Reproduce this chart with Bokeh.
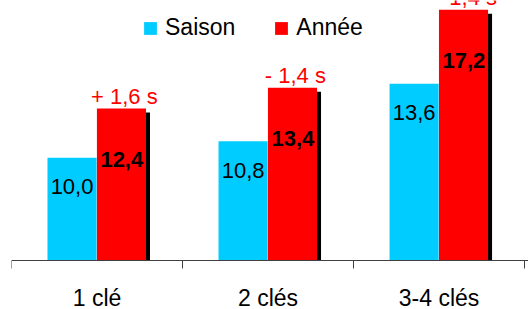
from bokeh.plotting import figure
from bokeh.models import ColumnDataSource, FixedTicker, Legend, LegendItem, Range1d
from bokeh.transform import dodge
from bokeh.core.properties import value
from bokeh.embed import file_html
from bokeh.resources import INLINE

# ---- data ----
categories = ["1 clé", "2 clés", "3-4 clés"]
saison = [10.0, 10.8, 13.6]
annee = [12.4, 13.4, 17.2]
saison_labels = ["10,0", "10,8", "13,6"]
annee_labels = ["12,4", "13,4", "17,2"]
ecart_labels = ["+ 1,6 s", "- 1,4 s", "- 1,4 s"]

FONT = "Liberation Sans"
CYAN = "#00CCFF"
RED = "#FF0000"
BASE = 5

xpos = [i + 0.5 for i in range(len(categories))]
src = ColumnDataSource(dict(x=xpos, saison=saison, annee=annee,
                            sl=saison_labels, al=annee_labels, el=ecart_labels))

p = figure(width=528, height=309, output_backend="svg", toolbar_location=None,
           x_range=Range1d(0, 3.023), y_range=Range1d(2.617, 17.65),
           min_border_left=11, min_border_right=0, min_border_top=0, min_border_bottom=0)
p.outline_line_color = None
p.grid.visible = False
p.yaxis.visible = False
p.background_fill_color = "white"

W = 0.287
# shadow behind red bars
p.vbar(x=dodge("x", 0.143 + 0.0234, range=p.x_range), top=dodge("annee", -0.195, range=p.y_range),
       bottom=BASE, width=W, source=src, fill_color="black", line_color=None)
r_s = p.vbar(x=dodge("x", -0.146, range=p.x_range), top="saison", bottom=BASE, width=W, source=src,
             fill_color=CYAN, line_color=None)
r_a = p.vbar(x=dodge("x", 0.143, range=p.x_range), top="annee", bottom=BASE, width=W, source=src,
             fill_color=RED, line_color=None)

p.text(x=dodge("x", -0.146, range=p.x_range), y="saison", text="sl", source=src,
       y_offset=29, text_align="center", text_baseline="middle",
       text_font=value(FONT), text_font_size="22px", text_color="black")
p.text(x=dodge("x", 0.145, range=p.x_range), y="annee", text="al", source=src,
       y_offset=51, text_align="center", text_baseline="middle",
       text_font=value(FONT), text_font_size="22px", text_font_style="bold", text_color="black")
p.text(x=dodge("x", 0.16, range=p.x_range), y="annee", text="el", source=src,
       y_offset=-12, text_align="center", text_baseline="middle",
       text_font=value(FONT), text_font_size="22px", text_color=RED)

ax = p.xaxis[0]
ax.fixed_location = BASE
ax.ticker = FixedTicker(ticks=xpos, minor_ticks=[0, 1, 2, 3])
ax.major_label_overrides = {x: c for x, c in zip(xpos, categories)}
ax.major_tick_in = 0
ax.major_tick_out = 0
ax.minor_tick_in = 0
ax.minor_tick_out = 8
ax.minor_tick_line_color = "#404040"
ax.axis_line_color = "#404040"
ax.major_label_standoff = 16
ax.major_label_text_font = FONT
ax.major_label_text_font_size = "23px"
ax.major_label_text_color = "black"

legend = Legend(items=[LegendItem(label="Saison", renderers=[r_s]),
                       LegendItem(label="Année", renderers=[r_a])],
                orientation="horizontal", location=(131, 268),
                glyph_width=16, glyph_height=16, label_standoff=7, spacing=38,
                padding=0, margin=0, border_line_color=None, background_fill_alpha=0,
                label_text_font=FONT, label_text_font_size="23px", label_text_color="black")
p.add_layout(legend, "center")

open("out.html", "w").write(file_html(p, INLINE))
